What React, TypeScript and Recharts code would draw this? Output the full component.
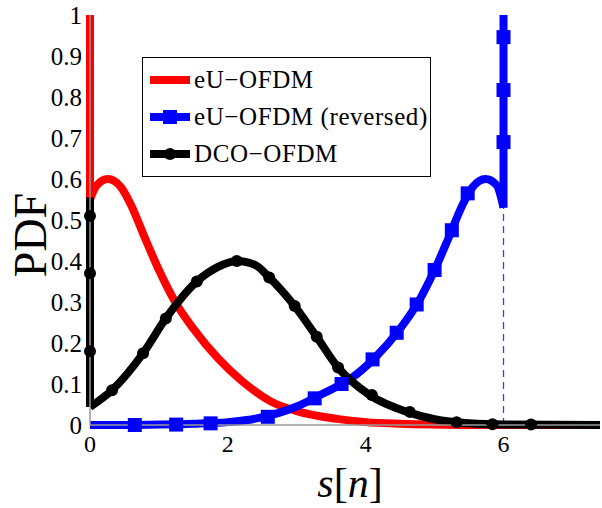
import React from 'react';
import { ComposedChart, Line, XAxis, YAxis, Legend, Label } from 'recharts';

// axis ticks
const xTicks = [0, 2, 4, 6];
const yTicks = [0, 0.1, 0.2, 0.3, 0.4, 0.5, 0.6, 0.7, 0.8, 0.9, 1];

// eU-OFDM (red)
const redX = [0, 0.1, 0.26, 0.45, 0.6, 0.8, 1.0, 1.23, 1.5, 1.86, 2.2, 2.64, 3.0, 3.58, 4.0, 4.5, 5.0, 5.5, 7.4];
const redY = [0.55, 0.585, 0.6, 0.58, 0.535, 0.455, 0.378, 0.302, 0.235, 0.162, 0.108, 0.056, 0.034, 0.015, 0.007, 0.003, 0.001, 0, 0];
const redSpikeX = [0, 0];
const redSpikeY = [1, 0.55];

// eU-OFDM (reversed) (blue)
const blueX = [0, 0.5, 1.0, 1.5, 2.0, 2.42, 3.0, 3.36, 3.8, 4.14, 4.5, 4.77, 5.0, 5.2, 5.4, 5.55, 5.74, 5.9, 6.0];
const blueY = [0, 0, 0.001, 0.003, 0.007, 0.016, 0.045, 0.075, 0.115, 0.165, 0.235, 0.302, 0.378, 0.455, 0.535, 0.58, 0.6, 0.585, 0.53];
const blueSpikeX = [6, 6];
const blueSpikeY = [0.53, 1];
const blueMarkX = [0.65, 1.25, 1.75, 2.58, 3.26, 3.65, 4.1, 4.45, 4.74, 5.0, 5.25, 5.48, 6, 6, 6];
const blueMarkY = [0, 0.001, 0.004, 0.02, 0.065, 0.1, 0.16, 0.225, 0.294, 0.378, 0.475, 0.565, 0.69, 0.817, 0.946];
const dashX = [6, 6];
const dashY = [0, 0.53];

// DCO-OFDM (black)
const blackX = [0, 0.32, 0.77, 1.1, 1.55, 1.85, 2.13, 2.4, 2.6, 2.97, 3.29, 3.6, 4.06, 4.6, 5.0, 5.5, 6.0, 7.4];
const blackY = [0.044, 0.085, 0.175, 0.26, 0.35, 0.385, 0.4, 0.39, 0.36, 0.29, 0.215, 0.14, 0.073, 0.032, 0.014, 0.004, 0.001, 0];
const blackSpikeX = [0, 0];
const blackSpikeY = [0.555, 0.044];
const blackMarkX = [0, 0, 0, 0.32, 0.77, 1.1, 1.55, 2.13, 2.6, 2.97, 3.29, 3.6, 4.09, 4.64, 5.32, 5.84, 6.4];
const blackMarkY = [0.51, 0.37, 0.18, 0.085, 0.175, 0.26, 0.35, 0.4, 0.36, 0.29, 0.215, 0.14, 0.073, 0.032, 0.007, 0.002, 0.001];

const legendNames = ['eU\u2212OFDM', 'eU\u2212OFDM (reversed)', 'DCO\u2212OFDM'];
const legendColors = ['#ff0000', '#0000ff', '#000000'];
const legendMarks = ['none', 'square', 'circle'];

const zip = (xs: number[], ys: number[]) => xs.map((x, i) => ({ x, y: ys[i] }));

const FONT = '"Liberation Serif", "Times New Roman", serif';
const LW = 8;

const squareDot = (p: any) =>
  <rect key={`s${p.index}`} x={p.cx - 7} y={p.cy - 7} width={14} height={14} fill="#0000ff" />;
const circleDot = (p: any) =>
  <circle key={`c${p.index}`} cx={p.cx} cy={p.cy} r={6} fill="#000" />;

const LegendBox = () => (
  <div style={{ border: '1px solid #000', background: '#fff', padding: '3px 0 4px 6px', fontFamily: FONT }}>
    {legendNames.map((name, i) => (
      <div key={name} style={{ display: 'flex', alignItems: 'center', height: 37 }}>
        <svg width={42} height={16} style={{ marginRight: 3 }}>
          <line x1={1} y1={8} x2={41} y2={8} stroke={legendColors[i]} strokeWidth={LW} />
          {legendMarks[i] === 'square' && <rect x={14} y={1} width={14} height={14} fill={legendColors[i]} />}
          {legendMarks[i] === 'circle' && <circle cx={21} cy={8} r={6} fill={legendColors[i]} />}
        </svg>
        <span style={{ fontSize: 25, letterSpacing: 0.6, whiteSpace: 'nowrap', color: '#000' }}>{name}</span>
      </div>
    ))}
  </div>
);

const XLabel = ({ viewBox }: any) => {
  const cx = viewBox.x + viewBox.width / 2 + 5;
  return (
    <text x={cx} y={497} textAnchor="middle" fontSize={42} fontFamily={FONT} fill="#000">
      <tspan fontStyle="italic">s</tspan>
      <tspan>[</tspan>
      <tspan fontStyle="italic">n</tspan>
      <tspan>]</tspan>
    </text>
  );
};

const YLabel = ({ viewBox }: any) => {
  const cy = viewBox.y + viewBox.height / 2 + 15;
  return (
    <text x={46} y={cy} transform={`rotate(-90 46 ${cy})`} textAnchor="middle" fontSize={46} fontFamily={FONT} fill="#000">
      PDF
    </text>
  );
};

export default function App() {
  const common = { isAnimationActive: false, activeDot: false as const, legendType: 'none' as const };
  return (
    <div style={{ position: 'absolute', left: 0, top: 0, width: 602, height: 508, background: '#fff', fontFamily: FONT }}>
      <ComposedChart width={602} height={508} margin={{ top: 15, right: 2, bottom: 0, left: 0 }}>
        <XAxis
          type="number"
          dataKey="x"
          domain={[0, 7.4]}
          ticks={xTicks}
          height={83}
          tickLine={false}
          tickMargin={4}
          axisLine={{ stroke: '#999', strokeWidth: 1.5 }}
          tick={{ fontSize: 24, fill: '#000', fontFamily: FONT }}
        >
          <Label content={<XLabel />} />
        </XAxis>
        <YAxis
          type="number"
          dataKey="y"
          domain={[0, 1]}
          ticks={yTicks}
          width={90}
          tickLine={false}
          tickMargin={2}
          axisLine={{ stroke: '#999', strokeWidth: 1.5 }}
          tick={{ fontSize: 25, fill: '#000', fontFamily: FONT }}
        >
          <Label content={<YLabel />} />
        </YAxis>
        <Legend
          layout="vertical"
          align="center"
          verticalAlign="middle"
          content={<LegendBox />}
          wrapperStyle={{ left: 142, top: 57, width: 289, height: 'auto' }}
        />

        <Line {...common} data={zip(redX, redY)} dataKey="y" type="monotone" stroke="#ff0000" strokeWidth={LW} dot={false} strokeLinejoin="round" />
        <Line {...common} data={zip(redSpikeX, redSpikeY)} dataKey="y" type="linear" stroke="#ff0000" strokeWidth={LW} dot={false} />

        <Line {...common} data={zip(dashX, dashY)} dataKey="y" type="linear" stroke="#3a3aff" strokeWidth={1.3} strokeDasharray="7 5" dot={false} />
        <Line {...common} data={zip(blueX, blueY)} dataKey="y" type="monotone" stroke="#0000ff" strokeWidth={LW} dot={false} strokeLinejoin="round" />
        <Line {...common} data={zip(blueSpikeX, blueSpikeY)} dataKey="y" type="linear" stroke="#0000ff" strokeWidth={LW} dot={false} />
        <Line {...common} data={zip(blueMarkX, blueMarkY)} dataKey="y" stroke="none" dot={squareDot} />

        <Line {...common} data={zip(blackX, blackY)} dataKey="y" type="monotone" stroke="#000" strokeWidth={LW} dot={false} strokeLinejoin="round" />
        <Line {...common} data={zip(blackSpikeX, blackSpikeY)} dataKey="y" type="linear" stroke="#000" strokeWidth={LW} dot={false} />
        <Line {...common} data={zip(blackMarkX, blackMarkY)} dataKey="y" stroke="none" dot={circleDot} />
      </ComposedChart>
    </div>
  );
}
